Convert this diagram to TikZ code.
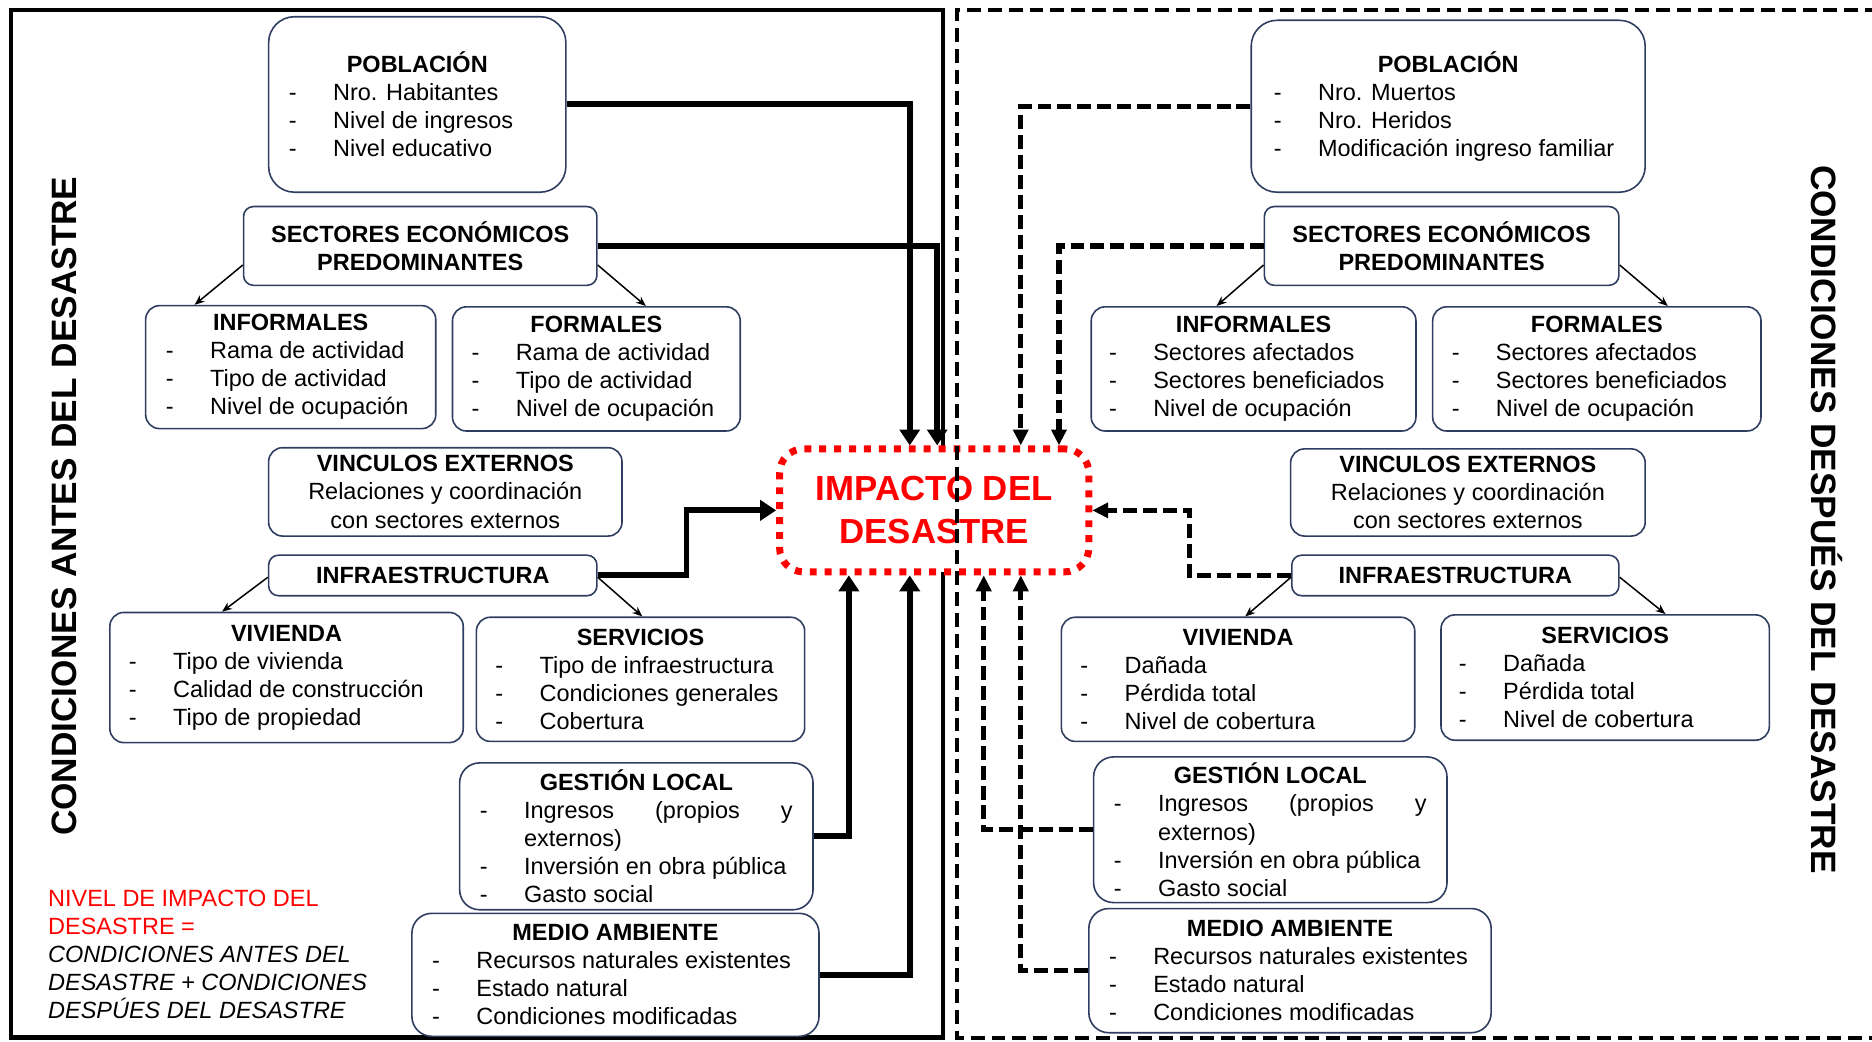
\documentclass[tikz,border=0pt]{standalone}
\usepackage{fontspec}
\setmainfont{Liberation Sans}
\usetikzlibrary{arrows.meta}

\newdimen\pu
\pu=0.6pt
\definecolor{cardline}{RGB}{47,62,96}
\definecolor{hotred}{RGB}{255,0,0}

\newcommand\bodyfont{\fontsize{11.8pt}{14.1pt}\selectfont}
\newcommand\hd[1]{{\centering\bfseries #1\par}}
\newcommand\li[1]{\noindent\makebox[37\pu][l]{-}\mbox{#1}\par}
\newcommand\lij[1]{\noindent\makebox[37\pu][l]{-}\makebox[\dimexpr\linewidth-37\pu\relax][s]{#1}\par}
\newcommand\lic[1]{\noindent\hspace*{37\pu}#1\par}
% [options] name, x1, y1, x2, y2, side margin, body
\newcommand\cardbox[8][]{%
  \node[card,#1,minimum width=\dimexpr #5\pu-#3\pu\relax,minimum height=\dimexpr #6\pu-#4\pu\relax]
    (#2) at ({(#3+#5)/2},{(#4+#6)/2})
    {\begin{minipage}{\dimexpr #5\pu-#3\pu-#7\pu-#7\pu\relax}\bodyfont #8\end{minipage}};}

\begin{document}
\begin{tikzpicture}[x=0.6pt, y=-0.6pt,
  card/.style={draw=cardline, line width=0.8pt, rounded corners=7pt, fill=white, inner sep=0pt},
  impactbox/.style={draw=hotred, line width=3.5pt, dash pattern=on 3.5pt off 4pt,
    rounded corners=12pt, fill=white, inner sep=0pt, text=hotred, align=center,
    font=\fontsize{17.5pt}{21.6pt}\selectfont\bfseries},
  feed/.style={line width=3pt, -{Triangle[length=8pt,width=10pt]}},
  feedafter/.style={line width=2.6pt, dash pattern=on 7pt off 3pt, -{Triangle[length=8pt,width=7.5pt]}},
  branch/.style={line width=0.75pt, -{Stealth[length=5pt,width=4pt]}},
  sidelabel/.style={font=\fontsize{17.7pt}{20pt}\selectfont\bfseries, inner sep=0pt},
]
\useasboundingbox (0,0) rectangle (1568,872);

% frame of the conditions before the disaster
\draw[line width=2.2pt] (9,8.5) rectangle (790,869);

% ---- conditions before the disaster ----
\cardbox[rounded corners=13pt]{pobA}{225}{14}{474}{161}{17}{\hd{POBLACIÓN}\li{Nro. Habitantes}\li{Nivel de ingresos}\li{Nivel educativo}}
\cardbox[rounded corners=5pt]{secA}{204}{173}{500}{239}{10}{\hd{SECTORES ECONÓMICOS\\PREDOMINANTES}}
\cardbox{infA}{122}{256}{365}{359}{17}{\hd{INFORMALES}\li{Rama de actividad}\li{Tipo de actividad}\li{Nivel de ocupación}}
\cardbox{forA}{379}{257}{620}{361}{16}{\hd{FORMALES}\li{Rama de actividad}\li{Tipo de actividad}\li{Nivel de ocupación}}
\cardbox{vinA}{225}{375}{521}{449}{10}{\hd{VINCULOS EXTERNOS}{\centering Relaciones y coordinación\\con sectores externos\par}}
\cardbox[rounded corners=5pt]{infraA}{225}{465}{500}{499}{10}{\hd{INFRAESTRUCTURA}}
\cardbox{vivA}{92}{513}{388}{622}{16}{\hd{VIVIENDA}\li{Tipo de vivienda}\li{Calidad de construcción}\li{Tipo de propiedad}}
\cardbox{serA}{399}{517}{674}{621}{16}{\hd{SERVICIOS}\li{Tipo de infraestructura}\li{Condiciones generales}\li{Cobertura}}
\cardbox[rounded corners=10pt]{gesA}{385}{639}{681}{762}{17}{\hd{GESTIÓN LOCAL}\lij{Ingresos (propios y}\lic{externos)}\li{Inversión en obra pública}\li{Gasto social}}
\cardbox[rounded corners=10pt]{medA}{345}{765}{686}{868}{17}{\hd{MEDIO AMBIENTE}\li{Recursos naturales existentes}\li{Estado natural}\li{Condiciones modificadas}}

% ---- conditions after the disaster ----
\cardbox[rounded corners=13pt]{pobB}{1048}{17}{1378}{161}{19}{\hd{POBLACIÓN}\li{Nro. Muertos}\li{Nro. Heridos}\li{Modificación ingreso familiar}}
\cardbox[rounded corners=5pt]{secB}{1059}{173}{1356}{239}{10}{\hd{SECTORES ECONÓMICOS\\PREDOMINANTES}}
\cardbox{infB}{914}{257}{1186}{361}{15}{\hd{INFORMALES}\li{Sectores afectados}\li{Sectores beneficiados}\li{Nivel de ocupación}}
\cardbox{forB}{1200}{257}{1475}{361}{16}{\hd{FORMALES}\li{Sectores afectados}\li{Sectores beneficiados}\li{Nivel de ocupación}}
\cardbox{vinB}{1081}{376}{1378}{449}{10}{\hd{VINCULOS EXTERNOS}{\centering Relaciones y coordinación\\con sectores externos\par}}
\cardbox[rounded corners=5pt]{infraB}{1082}{465}{1356}{499}{10}{\hd{INFRAESTRUCTURA}}
\cardbox{vivB}{889}{517}{1185}{621}{16}{\hd{VIVIENDA}\li{Dañada}\li{Pérdida total}\li{Nivel de cobertura}}
\cardbox{serB}{1207}{515}{1482}{620}{15}{\hd{SERVICIOS}\li{Dañada}\li{Pérdida total}\li{Nivel de cobertura}}
\cardbox[rounded corners=10pt]{gesB}{916}{634}{1212}{756}{17}{\hd{GESTIÓN LOCAL}\lij{Ingresos (propios y}\lic{externos)}\li{Inversión en obra pública}\li{Gasto social}}
\cardbox[rounded corners=10pt]{medB}{912}{761}{1249}{865}{17}{\hd{MEDIO AMBIENTE}\li{Recursos naturales existentes}\li{Estado natural}\li{Condiciones modificadas}}

% central node
\node[impactbox, minimum width=259\pu, minimum height=103\pu] (impact) at (782.5,427.5) {IMPACTO DEL\\DESASTRE};

% side titles and formula
\node[sidelabel, rotate=90, anchor=base] (before) at (64,424) {CONDICIONES ANTES DEL DESASTRE};
\node[sidelabel, rotate=-90, anchor=base] (after) at (1517,435) {CONDICIONES DESPUÉS DEL DESASTRE};
\node[anchor=north west, align=left, inner sep=0pt, font=\bodyfont] (formula) at (40,745)
  {\textcolor{hotred}{NIVEL DE IMPACTO DEL}\\\textcolor{hotred}{DESASTRE =}\\\textit{CONDICIONES ANTES DEL}\\\textit{DESASTRE + CONDICIONES}\\\textit{DESPÚES DEL DESASTRE}};

% columns and rows used by the connectors
\coordinate (colP) at (762,0);
\coordinate (colS) at (785,0);
\coordinate (colI) at (575,0);
\coordinate (colG) at (711,0);
\coordinate (colPb) at (855,0);
\coordinate (colSb) at (887,0);
\coordinate (colIb) at (996,0);
\coordinate (colGb) at (824,0);
\coordinate (rowSec) at (0,222);
\coordinate (rowInf) at (0,483.5);
\coordinate (tA1) at (163,0);
\coordinate (tA2) at (541,0);
\coordinate (tA3) at (186,0);
\coordinate (tA4) at (538,0);
\coordinate (tB1) at (1019,0);
\coordinate (tB2) at (1397,0);
\coordinate (tB3) at (1043,0);
\coordinate (tB4) at (1395,0);

% before: solid feeds into the impact
\draw[feed] (pobA.east) -| (colP |- impact.north);
\draw[feed] (secA.east) -| (colS |- impact.north);
\draw[feed] (infraA.east) -| (colI |- impact.west) -- (impact.west);
\draw[feed] (gesA.east) -| (colG |- impact.south);
\draw[feed] (medA.east) -| (colP |- impact.south);

% after: dashed feeds into the impact
\draw[feedafter] (pobB.west) -| (colPb |- impact.north);
\draw[feedafter] (secB.west) -| (colSb |- impact.north);
\draw[feedafter] (infraB.west) -| (colIb |- impact.east) -- (impact.east);
\draw[feedafter] (gesB.west) -| (colGb |- impact.south);
\draw[feedafter] (medB.west) -| (colPb |- impact.south);

% branches
\draw[branch] (secA.west |- rowSec) -- (infA.north -| tA1);
\draw[branch] (secA.east |- rowSec) -- (forA.north -| tA2);
\draw[branch] (infraA.west |- rowInf) -- (vivA.north -| tA3);
\draw[branch] (infraA.east |- rowInf) -- (serA.north -| tA4);
\draw[branch] (secB.west |- rowSec) -- (infB.north -| tB1);
\draw[branch] (secB.east |- rowSec) -- (forB.north -| tB2);
\draw[branch] (infraB.west |- rowInf) -- (vivB.north -| tB3);
\draw[branch] (infraB.east |- rowInf) -- (serB.north -| tB4);

% frame of the conditions after the disaster
\draw[line width=2.2pt, dash pattern=on 7pt off 3.5pt] (1574,8.5) -- (801.5,8.5) -- (801.5,869.5) -- (1574,869.5);
\end{tikzpicture}
\end{document}
